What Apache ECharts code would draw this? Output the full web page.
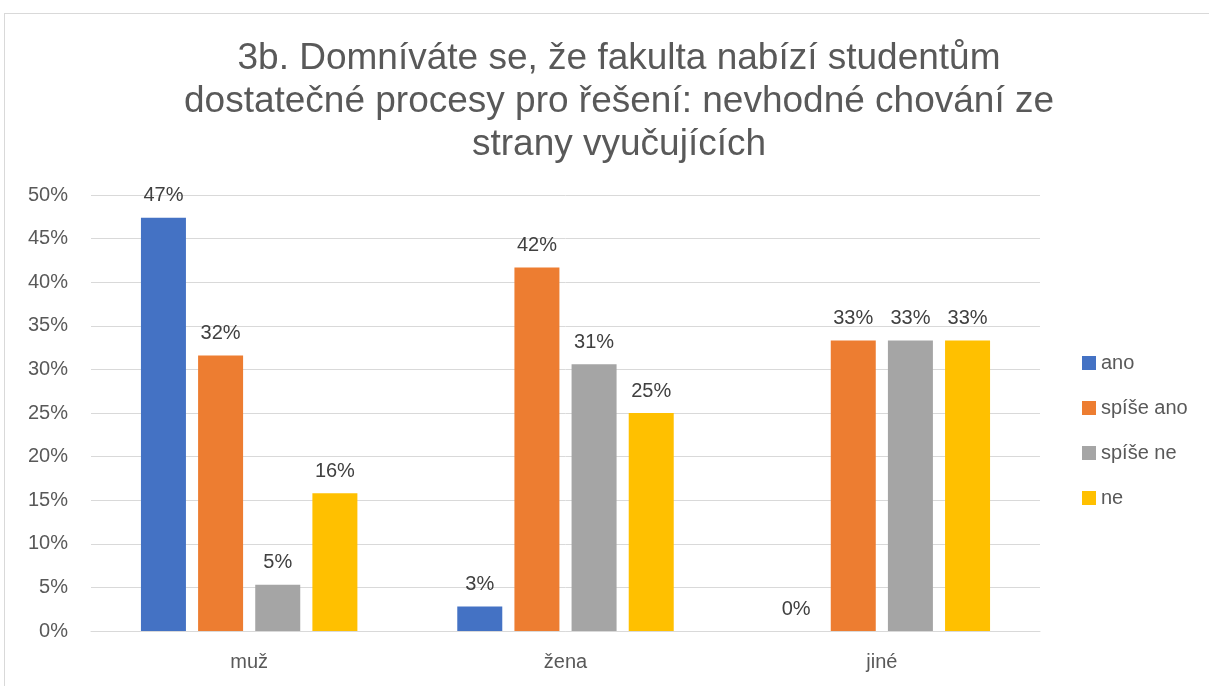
<!DOCTYPE html>
<html lang="cs">
<head>
  <meta charset="UTF-8">
  <title>3b. Domníváte se...</title>
  <style>
    html, body { margin: 0; padding: 0; background: #fff; overflow: hidden; }
    #chart { position: absolute; left: 0; top: 0; width: 1209px; height: 686px; }
    #frame {
      position: absolute; left: 4px; top: 13px; width: 1300px; height: 800px;
      border: 1px solid #d9d9d9; box-sizing: border-box; pointer-events: none;
    }
  </style>
</head>
<body>
  <div id="chart"></div>
  <div id="frame"></div>

  <script src="https://cdn.jsdelivr.net/npm/echarts/dist/echarts.min.js"></script>
  <script>
    // data
    const categories = ['muž', 'žena', 'jiné'];
    const seriesNames = ['ano', 'spíše ano', 'spíše ne', 'ne'];
    const ano = [47.4, 2.8, 0];
    const spiseAno = [31.6, 41.7, 33.3];
    const spiseNe = [5.3, 30.6, 33.3];
    const ne = [15.8, 25.0, 33.3];
    const colors = ['#4472C4', '#ED7D31', '#A5A5A5', '#FFC000'];

    const font = '"Liberation Sans", Arial, sans-serif';

    const makeSeries = (name, data, i) => ({
      name: name,
      type: 'bar',
      data: data,
      barWidth: 45,
      barGap: '27%',
      itemStyle: { color: colors[i] },
      label: {
        show: true,
        position: 'top',
        distance: 12,
        color: '#404040',
        fontSize: 20,
        fontFamily: font,
        formatter: p => Math.round(p.value) + '%'
      }
    });

    const chart = echarts.init(document.getElementById('chart'));
    chart.setOption({
      animation: false,
      title: {
        text: '3b. Domníváte se, že fakulta nabízí studentům\ndostatečné procesy pro řešení: nevhodné chování ze\nstrany vyučujících',
        left: 614,
        textAlign: 'center',
        top: 32,
        textStyle: {
          color: '#595959',
          fontSize: 37,
          fontWeight: 'normal',
          fontFamily: font,
          lineHeight: 43
        }
      },
      legend: {
        orient: 'vertical',
        left: 1077,
        top: 348,
        itemWidth: 14,
        itemHeight: 14,
        itemGap: 25,
        icon: 'rect',
        data: seriesNames,
        textStyle: { color: '#595959', fontSize: 20, fontFamily: font }
      },
      grid: { left: 91, right: 169, top: 195, bottom: 55 },
      xAxis: {
        type: 'category',
        data: categories,
        axisLine: { lineStyle: { color: '#d9d9d9' } },
        axisTick: { show: false },
        axisLabel: { color: '#595959', fontSize: 20, fontFamily: font, margin: 21 }
      },
      yAxis: {
        type: 'value',
        min: 0,
        max: 50,
        interval: 5,
        axisLine: { show: false },
        axisTick: { show: false },
        splitLine: { lineStyle: { color: '#d9d9d9', width: 1 } },
        axisLabel: { color: '#595959', fontSize: 20, fontFamily: font, margin: 23, formatter: '{value}%' }
      },
      series: [
        makeSeries(seriesNames[0], ano, 0),
        makeSeries(seriesNames[1], spiseAno, 1),
        makeSeries(seriesNames[2], spiseNe, 2),
        makeSeries(seriesNames[3], ne, 3)
      ]
    });
  </script>
</body>
</html>
